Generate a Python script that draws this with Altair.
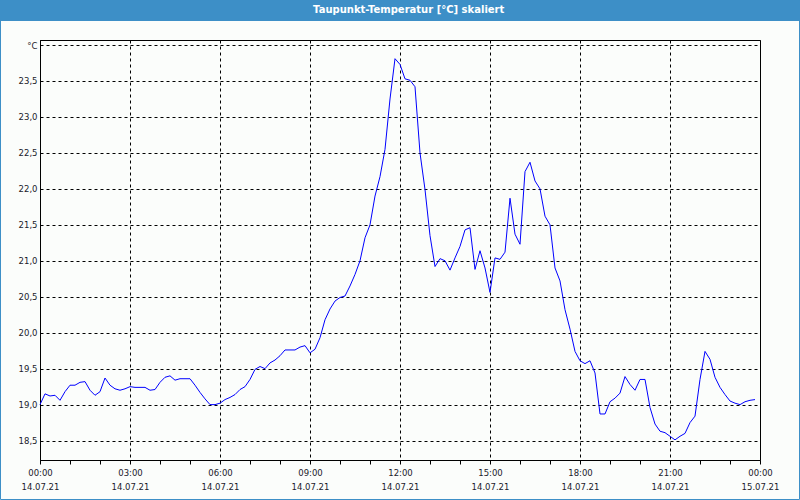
import altair as alt
import pandas as pd

DAY = "2021-07-14"

times = [
    "00:00", "00:10", "00:20", "00:30", "00:40", "00:50",
    "01:00", "01:10", "01:20", "01:30", "01:40", "01:50",
    "02:00", "02:10", "02:20", "02:30", "02:40", "02:50",
    "03:00", "03:10", "03:20", "03:30", "03:40", "03:50",
    "04:00", "04:10", "04:20", "04:30", "04:40", "04:50",
    "05:00", "05:10", "05:20", "05:30", "05:40", "05:50",
    "06:00", "06:10", "06:20", "06:30", "06:40", "06:50",
    "07:00", "07:10", "07:20", "07:30", "07:40", "07:50",
    "08:00", "08:10", "08:20", "08:30", "08:40", "08:50",
    "09:00", "09:10", "09:20", "09:30", "09:40", "09:50",
    "10:00", "10:10", "10:20", "10:30", "10:40", "10:50",
    "11:00", "11:10", "11:20", "11:30", "11:40", "11:50",
    "12:00", "12:10", "12:20", "12:30", "12:40", "12:50",
    "13:00", "13:10", "13:20", "13:30", "13:40", "13:50",
    "14:00", "14:10", "14:20", "14:30", "14:40", "14:50",
    "15:00", "15:10", "15:20", "15:30", "15:40", "15:50",
    "16:00", "16:10", "16:20", "16:30", "16:40", "16:50",
    "17:00", "17:10", "17:20", "17:30", "17:40", "17:50",
    "18:00", "18:10", "18:20", "18:30", "18:40", "18:50",
    "19:00", "19:10", "19:20", "19:30", "19:40", "19:50",
    "20:00", "20:10", "20:20", "20:30", "20:40", "20:50",
    "21:00", "21:10", "21:20", "21:30", "21:40", "21:50",
    "22:00", "22:10", "22:20", "22:30", "22:40", "22:50",
    "23:00", "23:10", "23:20", "23:30", "23:40", "23:50",
]

dewpoint = [
    19.00, 19.15, 19.12, 19.13, 19.06, 19.18,
    19.27, 19.27, 19.31, 19.32, 19.20, 19.13,
    19.18, 19.37, 19.27, 19.22, 19.20, 19.22,
    19.25, 19.24, 19.24, 19.24, 19.20, 19.21,
    19.31, 19.38, 19.40, 19.34, 19.36, 19.36,
    19.36, 19.27, 19.17, 19.08, 19.00, 19.00,
    19.02, 19.07, 19.10, 19.14, 19.21, 19.25,
    19.35, 19.49, 19.53, 19.50, 19.58, 19.62,
    19.68, 19.76, 19.76, 19.76, 19.80, 19.82,
    19.72, 19.77, 19.93, 20.18, 20.33, 20.44,
    20.49, 20.51, 20.65, 20.81, 21.00, 21.32,
    21.50, 21.90, 22.17, 22.55, 23.25, 23.81,
    23.73, 23.53, 23.51, 23.42, 22.50, 21.99,
    21.35, 20.92, 21.03, 21.00, 20.87, 21.04,
    21.20, 21.43, 21.46, 20.88, 21.14, 20.90,
    20.56, 21.04, 21.02, 21.12, 21.87, 21.37,
    21.23, 22.24, 22.37, 22.11, 22.00, 21.62,
    21.50, 20.90, 20.72, 20.32, 20.05, 19.74,
    19.61, 19.57, 19.61, 19.44, 18.87, 18.87,
    19.04, 19.09, 19.16, 19.39, 19.28, 19.20,
    19.35, 19.35, 18.96, 18.73, 18.63, 18.61,
    18.56, 18.51, 18.56, 18.60, 18.75, 18.84,
    19.35, 19.74, 19.63, 19.38, 19.24, 19.14,
    19.05, 19.02, 19.00, 19.04, 19.06, 19.07,
]

y_ticks = [18.5, 19.0, 19.5, 20.0, 20.5, 21.0, 21.5, 22.0, 22.5, 23.0, 23.5, 24.0]
title_text = "Taupunkt-Temperatur [°C] skaliert"

df = pd.DataFrame({"zeit": [f"{DAY}T{t}:00" for t in times], "wert": dewpoint})

hour_ticks = [alt.DateTime(year=2021, month=7, date=14, hours=h) for h in range(24)]
hour_ticks.append(alt.DateTime(year=2021, month=7, date=15, hours=0))

FONT = "DejaVu Sans"

x_axis = alt.Axis(
    values=hour_ticks,
    grid=True,
    gridColor="#000000",
    gridDash=[3, 3],
    gridWidth=1,
    gridOpacity={"condition": {"test": "hours(datum.value) % 3 == 0", "value": 1}, "value": 0},
    labelExpr="hours(datum.value) % 3 == 0 ? [timeFormat(datum.value, '%H:%M'), timeFormat(datum.value, '%d.%m.%y')] : ''",
    labelOverlap=False,
    labelFlush=False,
    labelBaseline="top",
    labelLineHeight=14,
    labelPadding=4,
    labelFont=FONT,
    labelFontSize=8.5,
    labelColor="#1a1a2a",
    ticks=True,
    tickSize=4,
    tickColor="#000000",
    domainColor="#000000",
    title=None,
)

y_axis = alt.Axis(
    values=y_ticks,
    grid=True,
    gridColor="#000000",
    gridDash=[3, 3],
    gridWidth=1,
    ticks=False,
    labelExpr="datum.value > 23.9 ? '°C' : replace(format(datum.value, '.1f'), '.', ',')",
    labelFont=FONT,
    labelFontSize=8.5,
    labelColor="#1a1a2a",
    labelPadding=3,
    domainColor="#000000",
    title=None,
)

line = alt.Chart(df).mark_line(color="#0000ff", strokeWidth=1).encode(
    x=alt.X(
        "zeit:T",
        axis=x_axis,
        scale=alt.Scale(
            domain=[
                alt.DateTime(year=2021, month=7, date=14, hours=0),
                alt.DateTime(year=2021, month=7, date=15, hours=0),
            ],
            nice=False,
        ),
    ),
    y=alt.Y("wert:Q", axis=y_axis, scale=alt.Scale(domain=[18.23, 24.07], nice=False, zero=False)),
)

one = alt.Data(values=[{}])

band = alt.Chart(one).mark_rect(color="#3d8fc7").encode(
    x=alt.value(-40), x2=alt.value(760), y=alt.value(-40), y2=alt.value(-19)
)

title = alt.Chart(one).mark_text(
    text=title_text, color="#ffffff", font=FONT, fontSize=10, fontWeight="bold",
    align="center", baseline="middle",
).encode(x=alt.value(368.7), y=alt.value(-30.5))

border = alt.Chart(one).mark_rect(fill=None, stroke="#3d8fc7", strokeWidth=1, fillOpacity=0).encode(
    x=alt.value(-39.5), x2=alt.value(759.5), y=alt.value(-39.5), y2=alt.value(459.5)
)

chart = alt.layer(band, line, title, border).properties(
    width=720,
    height=420,
    padding={"left": 40, "top": 40, "right": 40, "bottom": 40},
    autosize=alt.AutoSizeParams(type="none"),
    background="#fbfdfb",
).configure_view(stroke="#000000", strokeWidth=1)

chart.save("out.html", embed_options={"renderer": "svg", "actions": False})
